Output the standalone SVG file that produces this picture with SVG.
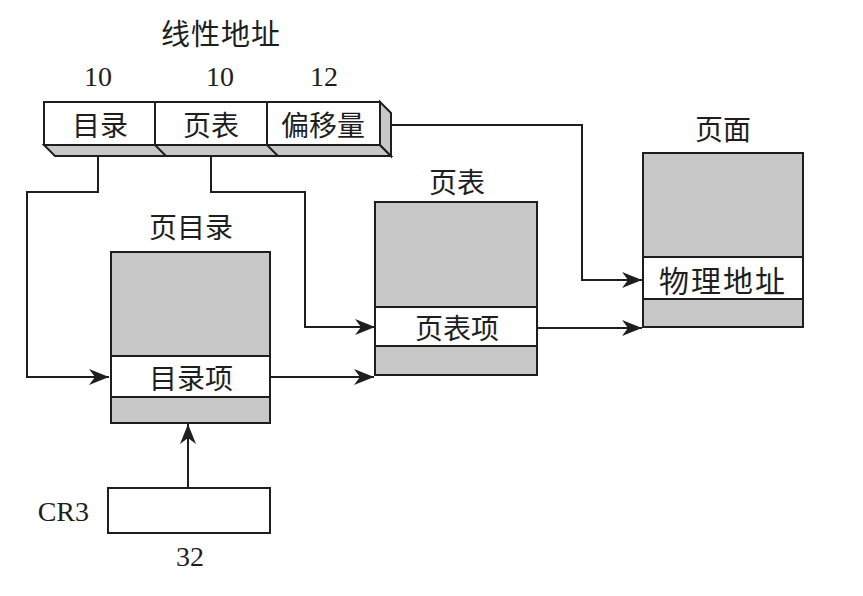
<svg xmlns="http://www.w3.org/2000/svg" width="863" height="596" viewBox="0 0 863 596">
<style>
.box{stroke:#1e1e1e;stroke-width:2;}
.g{fill:#c8c8c8;}
.w{fill:#ffffff;}
.ln{fill:none;stroke:#1e1e1e;stroke-width:2;}
.cn{font-family:"Noto Sans CJK SC","Noto Sans CJK TC",sans-serif;font-size:28px;fill:#1e1e1e;text-anchor:middle;dominant-baseline:central;}
.num{font-family:"Liberation Serif",serif;font-size:28px;fill:#1e1e1e;text-anchor:middle;}
</style>
<defs>
<marker id="ah" markerUnits="userSpaceOnUse" markerWidth="22" markerHeight="16" refX="20" refY="8" orient="auto">
<path d="M0,0 L20,8 L0,16 L6,8 Z" fill="#1e1e1e"/>
</marker>
</defs>
<rect width="863" height="596" fill="#ffffff"/>

<g id="linear-address">
<text class="cn" x="221" y="32" style="font-size:29px" letter-spacing="1">线性地址</text>
<text class="num" x="98" y="86">10</text>
<text class="num" x="220" y="86">10</text>
<text class="num" x="324" y="86">12</text>
<polygon class="box g" points="44,145 380,145 391,156 55,156"/>
<polygon class="box g" points="380,102 391,113 391,156 380,145"/>
<rect class="box w" x="44" y="102" width="336" height="43"/>
<line class="ln" x1="155" y1="102" x2="155" y2="145"/>
<line class="ln" x1="267" y1="102" x2="267" y2="145"/>
<line class="ln" x1="155" y1="145" x2="166" y2="156"/>
<line class="ln" x1="267" y1="145" x2="278" y2="156"/>
<text class="cn" x="100" y="124">目录</text>
<text class="cn" x="211" y="124">页表</text>
<text class="cn" x="323" y="124">偏移量</text>
</g>

<g id="page-directory">
<text class="cn" x="191" y="226">页目录</text>
<rect class="box g" x="111" y="252" width="159" height="171"/>
<rect class="box w" x="111" y="356" width="159" height="41"/>
<text class="cn" x="191" y="377">目录项</text>
</g>

<g id="page-table">
<text class="cn" x="457" y="181">页表</text>
<rect class="box g" x="375" y="202" width="162" height="173"/>
<rect class="box w" x="375" y="307" width="162" height="39"/>
<text class="cn" x="457" y="327">页表项</text>
</g>

<g id="page">
<text class="cn" x="723" y="128">页面</text>
<rect class="box g" x="643" y="153" width="160" height="174"/>
<rect class="box w" x="643" y="257" width="160" height="42"/>
<text class="cn" x="723" y="279" style="font-size:30px" letter-spacing="2">物理地址</text>
</g>

<g id="cr3">
<text class="num" x="89" y="521" style="text-anchor:end">CR3</text>
<rect class="box w" x="108" y="488" width="162" height="45"/>
<text class="num" x="190" y="566">32</text>
</g>

<g id="connectors">
<path class="ln" d="M98,156 V192 H27 V377 H109" marker-end="url(#ah)"/>
<path class="ln" d="M211,156 V192 H305 V327 H375" marker-end="url(#ah)"/>
<path class="ln" d="M391,125 H582 V280 H642" marker-end="url(#ah)"/>
<path class="ln" d="M270,377 H374" marker-end="url(#ah)"/>
<path class="ln" d="M537,328 H642" marker-end="url(#ah)"/>
<path class="ln" d="M188,488 V424" marker-end="url(#ah)"/>
</g>
</svg>
